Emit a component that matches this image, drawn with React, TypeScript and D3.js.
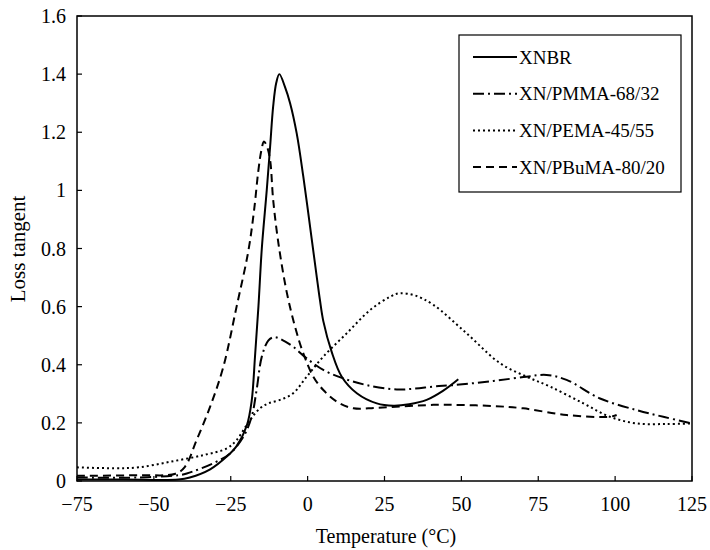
import React from "react";
import * as d3 from "d3";

const xTicks = [-75, -50, -25, 0, 25, 50, 75, 100, 125];
const yTicks = [0, 0.2, 0.4, 0.6, 0.8, 1, 1.2, 1.4, 1.6];
const seriesNames = ["XNBR", "XN/PMMA-68/32", "XN/PEMA-45/55", "XN/PBuMA-80/20"];

const xnbrT = [-75, -60, -42, -38.3, -31.7, -26.3, -23.1, -19.8, -18.2, -17.1, -16.0, -14.9, -13.3, -12.2, -11.2, -10.2, -9.2, -7.4, -5.7, -3.55, -1.4, 1.3, 3.0, 4.0, 5.1, 7.8, 11.1, 16, 22.5, 27.9, 33, 38.7, 44, 49];
const xnbrV = [0.005, 0.005, 0.005, 0.012, 0.04, 0.084, 0.12, 0.19, 0.275, 0.43, 0.6, 0.8, 1.0, 1.15, 1.29, 1.37, 1.4, 1.357, 1.3, 1.196, 1.047, 0.835, 0.7, 0.623, 0.55, 0.445, 0.359, 0.302, 0.267, 0.259, 0.264, 0.279, 0.31, 0.35];

const pmmaT = [-75, -55, -42, -39.3, -30.7, -25.2, -20.9, -18.2, -16.6, -14.9, -12.8, -11, -9.5, -7, -4.7, -0.3, 5.1, 11.6, 19.2, 29, 35, 40.9, 47.4, 60.4, 71.2, 77.7, 84.2, 95.1, 107, 116, 124.9];
const pmmaV = [0.012, 0.012, 0.02, 0.026, 0.061, 0.095, 0.152, 0.221, 0.313, 0.428, 0.483, 0.495, 0.492, 0.478, 0.462, 0.422, 0.382, 0.353, 0.33, 0.315, 0.318, 0.325, 0.33, 0.344, 0.359, 0.365, 0.348, 0.284, 0.244, 0.22, 0.198];

const pemaT = [-75, -63, -55, -44.8, -33.9, -26.3, -23.1, -18.7, -15.5, -12.8, -9, -4.7, -0.3, 5.1, 12.7, 20.3, 26.8, 30, 35, 40.9, 51.7, 62.6, 71.2, 78.8, 89.7, 98.3, 107, 116.8, 125];
const pemaV = [0.047, 0.044, 0.047, 0.066, 0.089, 0.112, 0.141, 0.21, 0.25, 0.267, 0.279, 0.302, 0.359, 0.428, 0.508, 0.588, 0.634, 0.646, 0.638, 0.606, 0.508, 0.405, 0.359, 0.325, 0.267, 0.221, 0.198, 0.196, 0.198];

const pbumaT = [-75, -55, -43, -39.9, -36.1, -31.7, -27.4, -23.1, -19.3, -17.4, -16, -15, -14.2, -13.2, -12.2, -11.2, -9.5, -6.8, -4.1, -1.4, 1.85, 5.1, 9.5, 14.9, 22.5, 40.9, 47.4, 60.4, 70.1, 84.2, 98.3, 100.5];
const pbumaV = [0.018, 0.02, 0.025, 0.049, 0.141, 0.256, 0.393, 0.6, 0.79, 0.933, 1.07, 1.14, 1.168, 1.15, 1.105, 0.967, 0.818, 0.65, 0.531, 0.439, 0.359, 0.313, 0.273, 0.25, 0.252, 0.262, 0.262, 0.258, 0.25, 0.227, 0.221, 0.227];

const W = 710, H = 550;
const left = 77, right = 692, top = 16, bottom = 481;
const FONT = "'Liberation Serif', 'Times New Roman', Times, serif";

export default function App() {
  const x = d3.scaleLinear().domain([-75, 125]).range([left, right]);
  const y = d3.scaleLinear().domain([0, 1.6]).range([bottom, top]);
  const line = d3
    .line<[number, number]>()
    .x((d) => x(d[0]))
    .y((d) => y(d[1]))
    .curve(d3.curveCatmullRom.alpha(0.5));
  const zip = (t: number[], v: number[]) => t.map((tt, i) => [tt, v[i]] as [number, number]);
  const series = [
    { name: seriesNames[0], data: zip(xnbrT, xnbrV), dash: "", w: 2 },
    { name: seriesNames[1], data: zip(pmmaT, pmmaV), dash: "11,4,2,4", w: 2 },
    { name: seriesNames[2], data: zip(pemaT, pemaV), dash: "2,3", w: 2 },
    { name: seriesNames[3], data: zip(pbumaT, pbumaV), dash: "8,5", w: 2 },
  ];
  const ts = { fontFamily: FONT };
  return (
    <svg width={W} height={H} style={{ position: "absolute", left: 0, top: 0, background: "#fff", fontFamily: FONT }}>
      <rect x={0} y={0} width={W} height={H} fill="#fff" />
      {series.map((s) => (
        <path key={s.name} d={line(s.data) || ""} fill="none" stroke="#000" strokeWidth={s.w} strokeDasharray={s.dash || undefined} />
      ))}
      <rect x={left} y={top} width={right - left} height={bottom - top} fill="none" stroke="#000" strokeWidth={1.5} />
      {xTicks.map((t) => (
        <g key={"x" + t}>
          <line x1={x(t)} x2={x(t)} y1={bottom} y2={bottom - 5} stroke="#000" strokeWidth={1.2} />
          <text x={x(t)} y={511} textAnchor="middle" fontSize={20} style={ts}>
            {t < 0 ? "\u2212" + Math.abs(t) : String(t)}
          </text>
        </g>
      ))}
      {yTicks.map((t) => (
        <g key={"y" + t}>
          <line x1={left} x2={left + 5} y1={y(t)} y2={y(t)} stroke="#000" strokeWidth={1.2} />
          <text x={66} y={y(t)} dy="0.35em" textAnchor="end" fontSize={20} style={ts}>
            {String(+t.toFixed(1))}
          </text>
        </g>
      ))}
      <text x={386} y={543} textAnchor="middle" fontSize={20} style={ts}>
        Temperature (°C)
      </text>
      <text transform={`translate(25, 249) rotate(-90)`} textAnchor="middle" fontSize={21} style={ts}>
        Loss tangent
      </text>
      <rect x={459} y={35} width={222} height={157} fill="#fff" stroke="#000" strokeWidth={1.2} />
      {series.map((s, i) => {
        const ly = 57 + i * 36.7;
        return (
          <g key={"lg" + s.name}>
            <line x1={473} x2={517} y1={ly} y2={ly} stroke="#000" strokeWidth={s.w} strokeDasharray={s.dash || undefined} />
            <text x={519} y={ly} dy="0.35em" fontSize={19} style={ts}>
              {s.name}
            </text>
          </g>
        );
      })}
    </svg>
  );
}
